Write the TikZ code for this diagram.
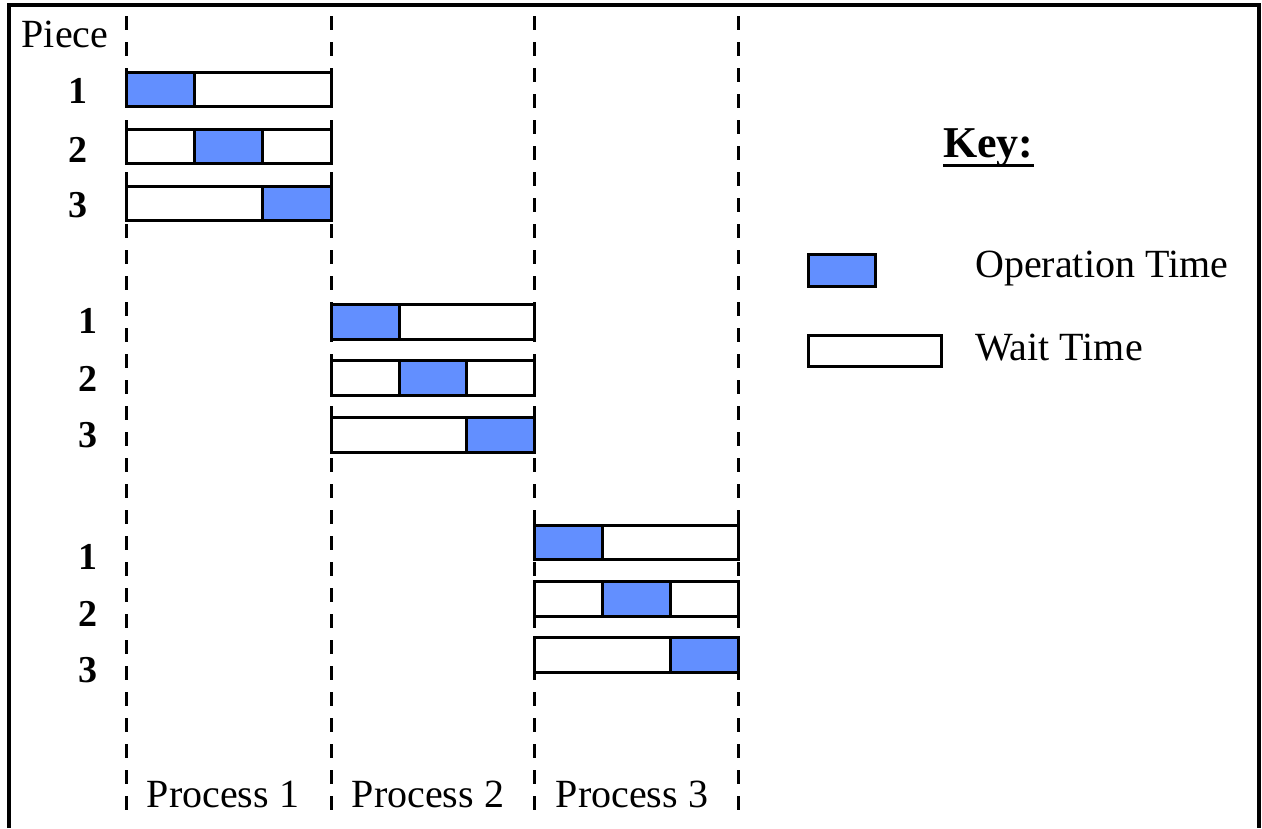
\documentclass[tikz,border=0pt]{standalone}
\usepackage{fontspec}
\setmainfont{Liberation Serif}
\definecolor{optime}{HTML}{628FFF}

\begin{document}
\begin{tikzpicture}[x=1pt, y=-1pt,
    waitbar/.style={draw, line width=3pt, fill=white},
    opbar/.style={draw, line width=3pt, fill=optime},
    divider/.style={line width=3pt, dash pattern=on 14pt off 12pt},
    txt/.style={inner sep=0pt, font=\fontsize{40}{48}\selectfont},
    piecenum/.style={inner sep=0pt, anchor=base, font=\fontsize{38}{44}\selectfont\bfseries}]
            \useasboundingbox (0,0) rectangle (1262,828);

            % Frame
            \draw[line width=4pt] (9,828) -- (9,5) -- (1259,5) -- (1259,828);

            % Process dividers
            \draw[divider] (126,16) -- (126,810);
            \draw[divider] (331,16) -- (331,810);
            \draw[divider] (534,16) -- (534,810);
            \draw[divider] (738,16) -- (738,810);

            % Pieces through process 1
            \node[txt, anchor=base] (piece) at (65,47) {Piece};
            \node[piecenum] (pa1) at (78,103) {1};
            \node[piecenum] (pa2) at (78,162) {2};
            \node[piecenum] (pa3) at (78,217) {3};
            \draw[waitbar] (126,72) rectangle (331,106);
            \draw[opbar] (126,72) rectangle (194,106);
            \draw[waitbar] (126,129) rectangle (331,163);
            \draw[opbar] (194,129) rectangle (262,163);
            \draw[waitbar] (126,186) rectangle (331,220);
            \draw[opbar] (262,186) rectangle (331,220);

            % Pieces through process 2
            \node[piecenum] (pb1) at (88,333) {1};
            \node[piecenum] (pb2) at (88,391) {2};
            \node[piecenum] (pb3) at (88,447) {3};
            \draw[waitbar] (331,304) rectangle (534,339);
            \draw[opbar] (331,304) rectangle (399,339);
            \draw[waitbar] (331,360) rectangle (534,395);
            \draw[opbar] (399,360) rectangle (466,395);
            \draw[waitbar] (331,417) rectangle (534,452);
            \draw[opbar] (466,417) rectangle (534,452);

            % Pieces through process 3
            \node[piecenum] (pc1) at (88,569) {1};
            \node[piecenum] (pc2) at (88,626) {2};
            \node[piecenum] (pc3) at (88,682) {3};
            \draw[waitbar] (534,525) rectangle (738,559);
            \draw[opbar] (534,525) rectangle (602,559);
            \draw[waitbar] (534,581) rectangle (738,616);
            \draw[opbar] (602,581) rectangle (670,616);
            \draw[waitbar] (534,637) rectangle (738,672);
            \draw[opbar] (670,637) rectangle (738,672);

            % Process names
            \node[txt, anchor=base] (proc1) at (223,807) {Process 1};
            \node[txt, anchor=base] (proc2) at (428,807) {Process 2};
            \node[txt, anchor=base] (proc3) at (632,807) {Process 3};

            % Key
            \node[inner sep=0pt, anchor=base west, font=\fontsize{44}{52}\selectfont\bfseries] (key) at (943,157) {Key:};
            \draw[line width=3pt] ([yshift=-8pt]key.base west) -- ([yshift=-8pt]key.base east);
            \draw[opbar] (808,254) rectangle (875,286);
            \node[txt, anchor=base west] (optext) at (975,277) {Operation Time};
            \draw[waitbar] (808,335) rectangle (941,366);
            \node[txt, anchor=base west] (waittext) at (975,360) {Wait Time};
        \end{tikzpicture}
\end{document}
